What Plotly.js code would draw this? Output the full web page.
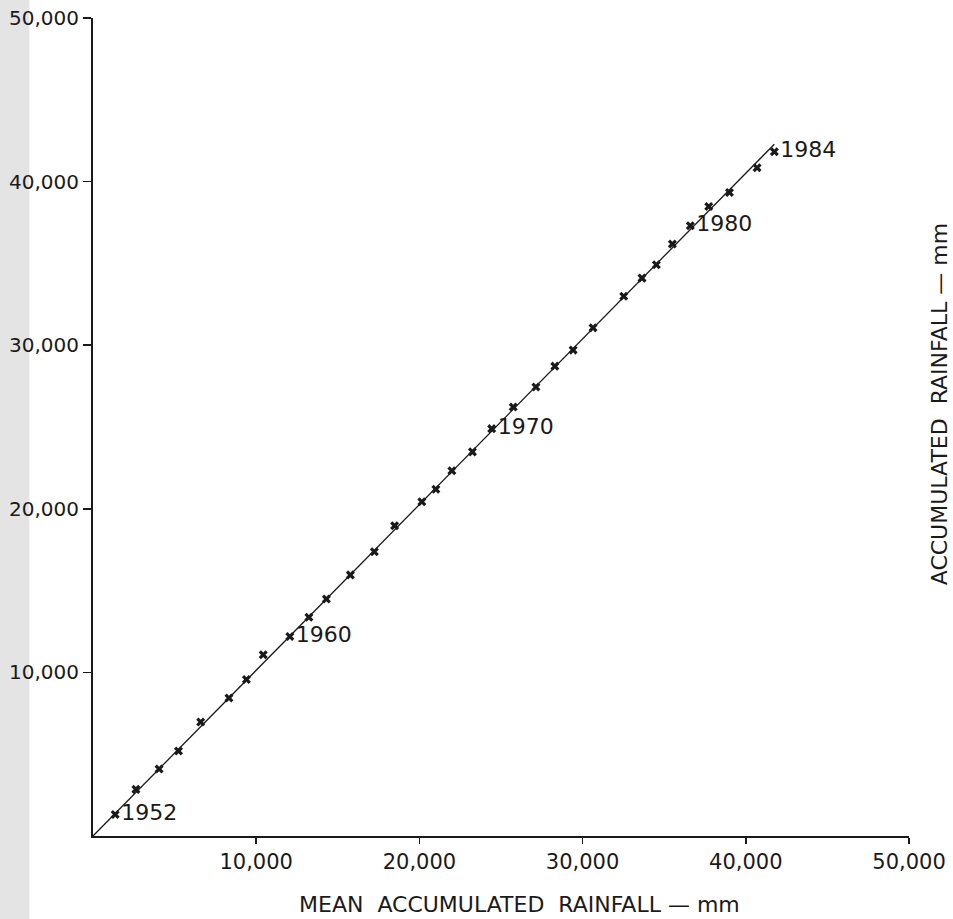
<!DOCTYPE html>
<html>
<head>
<meta charset="utf-8">
<script src="https://cdn.plot.ly/plotly-3.0.1.min.js"></script>
<style>html,body{margin:0;padding:0;background:#fff;}#chart{width:953px;height:919px;}</style>
</head>
<body>
<div id="chart"></div>
<script>
// Double mass curve data
const years = [1952,1953,1954,1955,1956,1957,1958,1959,1960,1961,1962,1963,1964,1965,1966,1967,1968,
               1969,1970,1971,1972,1973,1974,1975,1976,1977,1978,1979,1980,1981,1982,1983,1984];
const meanAccumulated = [1360,2630,4050,5240,6600,8330,9400,10430,12060,13230,14300,15770,17240,18480,20150,21010,21990,
                         23250,24430,25750,27140,28300,29420,30640,32520,33640,34520,35500,36600,37730,39000,40690,41750];
const accumulated = [1320,2850,4090,5200,6970,8430,9560,11080,12200,13370,14490,15960,17380,18960,20430,21200,22320,
                     23480,24900,26220,27440,28720,29700,31060,32990,34100,34920,36180,37300,38480,39330,40850,41830];
const labeledYears = [1952,1960,1970,1980,1984];
const tickValues = [10000,20000,30000,40000,50000];
const tickLabels = ["10,000","20,000","30,000","40,000","50,000"];
const xTitle = "MEAN  ACCUMULATED  RAINFALL \u2014 mm";
const yTitle = "ACCUMULATED  RAINFALL \u2014 mm";

// least-squares line through the origin, computed from the data
let sxy = 0, sxx = 0;
for (let i = 0; i < meanAccumulated.length; i++) {
  sxy += meanAccumulated[i] * accumulated[i];
  sxx += meanAccumulated[i] * meanAccumulated[i];
}
const slope = sxy / sxx;
const xEnd = Math.max(...meanAccumulated);
const lineX = [0, xEnd];
const lineY = lineX.map(v => v * slope);

const ink = '#1a1a1a';
const fontFam = '"DejaVu Sans", "Liberation Sans", sans-serif';

const traces = [
  {
    x: lineX, y: lineY, mode: 'lines', type: 'scatter',
    line: {color: ink, width: 1.3}, hoverinfo: 'skip', showlegend: false
  },
  {
    x: meanAccumulated, y: accumulated, mode: 'markers+text', type: 'scatter',
    text: years.map(y => labeledYears.includes(y) ? String(y) : ''),
    textposition: 'middle right',
    textfont: {family: fontFam, size: 22, color: ink},
    marker: {symbol: 'x', size: 8, color: ink, line: {width: 0}},
    showlegend: false, cliponaxis: false
  }
];

const layout = {
  width: 953, height: 919,
  margin: {l: 93, r: 44, t: 18, b: 83},
  paper_bgcolor: '#ffffff', plot_bgcolor: '#ffffff',
  font: {family: fontFam, color: ink},
  showlegend: false,
  xaxis: {
    range: [0, 50000], tickvals: tickValues, ticktext: tickLabels,
    showgrid: false, zeroline: false, showline: true, linecolor: ink, linewidth: 2,
    ticks: 'outside', ticklen: 6, tickwidth: 1.5, tickcolor: ink,
    tickfont: {family: fontFam, size: 21, color: ink}, fixedrange: true
  },
  yaxis: {
    range: [0, 50000], tickvals: tickValues, ticktext: tickLabels,
    showgrid: false, zeroline: false, showline: true, linecolor: ink, linewidth: 2,
    ticks: 'outside', ticklen: 8, tickwidth: 1.5, tickcolor: ink,
    tickfont: {family: fontFam, size: 20, color: ink}, fixedrange: true
  },
  shapes: [
    {type: 'rect', xref: 'paper', yref: 'paper', x0: -0.114, x1: -0.078, y0: -0.102, y1: 1.022,
     fillcolor: '#e4e4e4', line: {width: 0}, layer: 'below'}
  ],
  annotations: [
    {text: xTitle, xref: 'paper', yref: 'paper', x: 0.523, y: -0.084, xanchor: 'center', yanchor: 'middle',
     showarrow: false, font: {family: fontFam, size: 22, color: ink}},
    {text: yTitle, xref: 'paper', yref: 'paper', x: 1.037, y: 0.528, xanchor: 'center', yanchor: 'middle',
     textangle: -90, showarrow: false, font: {family: fontFam, size: 22, color: ink}}
  ]
};

Plotly.newPlot('chart', traces, layout, {displayModeBar: false, staticPlot: true});
</script>
</body>
</html>
